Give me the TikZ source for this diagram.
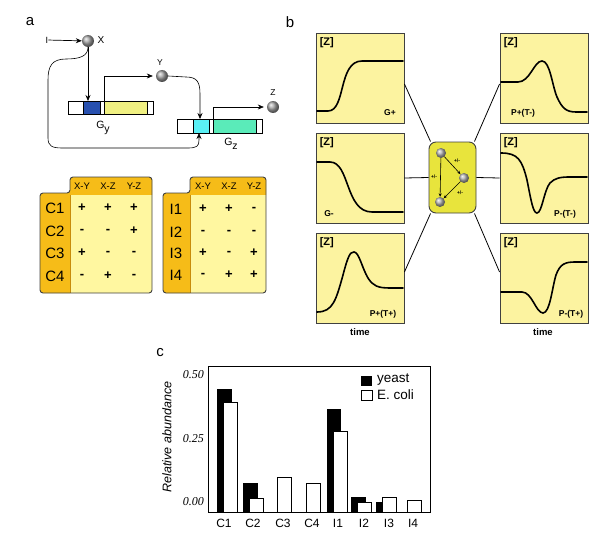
\documentclass[tikz,border=0pt]{standalone}
\usepackage{fontspec}
\setmainfont{Liberation Sans}
\newfontfamily\tnr{Liberation Serif}
\usetikzlibrary{arrows.meta,calc,shadings}
\definecolor{hdr}{RGB}{246,188,24}
\definecolor{hdrline}{RGB}{200,140,10}
\definecolor{tbody}{RGB}{255,247,160}
\definecolor{pboxc}{RGB}{252,243,160}
\definecolor{cboxc}{RGB}{232,228,60}
\definecolor{gblue}{RGB}{40,80,175}
\definecolor{gyel}{RGB}{240,240,130}
\definecolor{gcyan}{RGB}{90,240,245}
\definecolor{ggreen}{RGB}{90,235,185}
\newcommand\fsz[1]{\fontsize{#1}{#1}\selectfont}
\begin{document}
\begin{tikzpicture}[x=1pt,y=-1pt,
  ball/.style={circle,minimum size=12pt,inner sep=0pt,shading=ball,ball color=gray!70},
  sball/.style={circle,minimum size=10pt,inner sep=0pt,shading=ball,ball color=gray!60},
  lbl/.style={inner sep=0pt,font=\fsz{9}},
  arr/.style={-{Stealth[length=6pt,width=5pt]},line width=0.7pt},
  pboxs/.style={draw=gray!50!black,fill=pboxc,line width=0.9pt,minimum width=88pt,minimum height=90pt,inner sep=0pt},
  crv/.style={line width=1.6pt,line cap=round},
  zt/.style={font=\fsz{11}\bfseries,inner sep=0pt,anchor=north west},
  ct/.style={font=\fsz{8.5}\bfseries,inner sep=0pt},
  tt/.style={font=\fsz{9.5}\bfseries,inner sep=0pt},
  pm/.style={font=\fsz{13}\bfseries,inner sep=0pt},
  rowl/.style={font=\fsz{15},inner sep=0pt},
  colh/.style={font=\fsz{9.5},inner sep=0pt},
  yb/.style={fill=black},
  cb/.style={draw=black,fill=white,line width=0.8pt},
  xl/.style={font=\fsz{12},inner sep=0pt},
  tick/.style={font=\fsz{12}\tnr\itshape,inner sep=0pt,anchor=east},
  pl/.style={font=\fsz{15},inner sep=0pt}
]
\useasboundingbox (0,0) rectangle (600,543);
% ---------------- panel a ----------------
\node[pl] (la) at (30,22) {a};
\node[pl] (lb) at (290,22) {b};
\node[pl] (lc) at (160,353) {c};

\node[ball] (X) at (88,41) {};
\node[ball] (Y) at (162,76) {};
\node[ball] (Z) at (273,107) {};
\node[lbl] (I) at (47,40) {I};
\node[lbl,font=\fsz{10}] (Xl) at (101,40) {X};
\node[lbl,font=\fsz{8.5}] (Yl) at (160,63) {Y};
\node[lbl,font=\fsz{8.5}] (Zl) at (273,93) {Z};

% Gy gene
\draw[line width=0.8pt,fill=white] (68,101) rectangle (153,114);
\fill[gblue] (83,101) rectangle (100,114);
\fill[gyel] (104,101) rectangle (147,114);
\draw[line width=0.8pt] (68,101) rectangle (153,114);
\foreach \xx in {83,100,104,147} \draw[line width=0.6pt] (\xx,101) -- (\xx,114);
% Gz gene
\draw[line width=0.8pt,fill=white] (177,119) rectangle (262,133);
\fill[gcyan] (193,119) rectangle (209,133);
\fill[ggreen] (213,119) rectangle (256,133);
\draw[line width=0.8pt] (177,119) rectangle (262,133);
\foreach \xx in {193,209,213,256} \draw[line width=0.6pt] (\xx,119) -- (\xx,133);

\node[lbl,font=\fsz{10.5}] (Gy) at (103,128) {G\raisebox{-3.5pt}{y}};
\node[lbl,font=\fsz{10.5}] (Gz) at (231,144) {G\raisebox{-3.5pt}{z}};

\coordinate (gyin) at (88,101);
\coordinate (gyp) at (104,101);
\coordinate (gzin) at (200,119);
\coordinate (gzin2) at (199,133);
\coordinate (gzp) at (213,119);

\draw[arr] (I) -- (X);
\draw[arr] (X) -- (gyin);
\draw[arr,line width=0.6pt,shorten >=3pt] (gyp) |- (Y);
\draw[arr,line width=0.6pt,shorten >=3pt] (gzp) |- (Z);
\draw[arr,line width=0.6pt] (Y.east) -- (186,77) .. controls (197,77) and (200,82) .. (200,94) -- (gzin);
\draw[arr,line width=0.6pt] (X.south) .. controls (88,56) and (80,59) .. (66,59)
  .. controls (52,59) and (48,66) .. (48,80) -- (48,138)
  .. controls (48,146) and (52,148) .. (62,148) -- (188,148)
  .. controls (197,148) and (199,146) .. (199,140) -- (gzin2);

% ---------------- tables ----------------
% table C
\begin{scope}
  \clip[rounded corners=3pt] (40,193) -- (70,193) -- (70,177) -- (152,177) -- (152,293) -- (40,293) -- cycle;
  \fill[tbody] (30,170) rectangle (160,300);
  \fill[hdr] (70,170) rectangle (160,195);
  \fill[hdr] (30,190) rectangle (70,300);
\end{scope}
\draw[hdrline,line width=0.8pt] (70,195) -- (70,293);
\draw[line width=0.9pt,draw=black!75,rounded corners=3pt] (40,193) -- (70,193) -- (70,177) -- (152,177) -- (152,293) -- (40,293) -- cycle;
% table I
\begin{scope}
  \clip[rounded corners=3pt] (163,193) -- (190,193) -- (190,177) -- (266,177) -- (266,293) -- (163,293) -- cycle;
  \fill[tbody] (150,170) rectangle (280,300);
  \fill[hdr] (190,170) rectangle (280,195);
  \fill[hdr] (150,190) rectangle (190,300);
\end{scope}
\draw[hdrline,line width=0.8pt] (190,195) -- (190,293);
\draw[line width=0.9pt,draw=black!75,rounded corners=3pt] (163,193) -- (190,193) -- (190,177) -- (266,177) -- (266,293) -- (163,293) -- cycle;

\node[colh] (ch1) at (82,186) {X-Y};
\node[colh] (ch2) at (108,186) {X-Z};
\node[colh] (ch3) at (134,186) {Y-Z};
\node[colh] (ih1) at (203,186) {X-Y};
\node[colh] (ih2) at (229,186) {X-Z};
\node[colh] (ih3) at (254,186) {Y-Z};

\foreach \n/\yy/\a/\b/\c in {1/208/+/+/+, 2/231/-/-/+, 3/253/+/-/-, 4/276/-/+/-}{
  \node[rowl] (cr\n) at (55,\yy) {C\n};
  \node[pm] (ca\n) at (82,\yy) {\a};
  \node[pm] (cb\n) at (108,\yy) {\b};
  \node[pm] (cc\n) at (134,\yy) {\c};
}
\foreach \n/\yy/\a/\b/\c in {1/209/+/+/-, 2/232/-/-/-, 3/253/+/-/+, 4/275/-/+/+}{
  \node[rowl] (ir\n) at (176,\yy) {I\n};
  \node[pm] (ia\n) at (203,\yy) {\a};
  \node[pm] (ib\n) at (229,\yy) {\b};
  \node[pm] (ic\n) at (254,\yy) {\c};
}

% ---------------- panel b ----------------
\node[pboxs] (g1) at (360,78) {};
\node[pboxs] (g2) at (360,178) {};
\node[pboxs] (g3) at (360,278) {};
\node[pboxs] (r1) at (544,78) {};
\node[pboxs] (r2) at (544,178) {};
\node[pboxs] (r3) at (544,278) {};
\node[draw=gray!50!black,fill=cboxc,line width=0.9pt,rounded corners=7pt,minimum width=47pt,minimum height=71pt,inner sep=0pt] (ctr) at (452.5,177.5) {};

\draw[line width=0.8pt] ([yshift=-6pt]g1.east) -- ([xshift=2pt]ctr.north west);
\draw[line width=0.8pt] (g2.east) -- (ctr.west);
\draw[line width=0.8pt] ([yshift=6pt]g3.east) -- ([xshift=2pt]ctr.south west);
\draw[line width=0.8pt] ([yshift=-6pt]r1.west) -- ([xshift=-2pt]ctr.north east);
\draw[line width=0.8pt] (r2.west) -- (ctr.east);
\draw[line width=0.8pt] ([yshift=6pt]r3.west) -- ([xshift=-2pt]ctr.south east);

\node[sball] (b1) at (441,153) {};
\node[sball] (b2) at (464,178) {};
\node[sball] (b3) at (440,202) {};
\draw[-{Stealth[length=3.5pt,width=3pt]},line width=0.6pt] (b1) -- (b2);
\draw[-{Stealth[length=3.5pt,width=3pt]},line width=0.6pt] (b1) -- (b3);
\draw[-{Stealth[length=3.5pt,width=3pt]},line width=0.6pt] (b2) -- (b3);
\node[font=\fsz{5}\bfseries,inner sep=0pt] (s1) at (457,161) {+/-};
\node[font=\fsz{5}\bfseries,inner sep=0pt] (s2) at (434,177) {+/-};
\node[font=\fsz{5}\bfseries,inner sep=0pt] (s3) at (460,193) {+/-};

% curves
\draw[crv] (317,111) -- (328,111) .. controls (346,111) and (338,61) .. (362,61) -- (403,61);
\draw[crv] (317,162) -- (330,162) .. controls (350,162) and (345,212) .. (372,212) -- (403,212);
\draw[crv] (317,312) .. controls (333,312) and (336,300) .. (343,275) .. controls (348,256) and (350,252) .. (354,252)
  .. controls (359,252) and (362,268) .. (368,278) .. controls (373,286) and (378,288) .. (390,288) -- (403,288);
\draw[crv] (501,82) -- (518,82) .. controls (530,82) and (534,61) .. (542,61)
  .. controls (550,61) and (552,85) .. (557,97) .. controls (562,108) and (566,112) .. (576,112) -- (587,112);
\draw[crv] (501,153) .. controls (518,153) and (522,160) .. (527,180) .. controls (531,200) and (533,213) .. (537,213)
  .. controls (542,213) and (544,190) .. (550,183) .. controls (555,178) and (560,177) .. (570,177) -- (587,177);
\draw[crv] (501,292) -- (522,292) .. controls (532,292) and (536,313) .. (543,313)
  .. controls (550,313) and (552,288) .. (556,275) .. controls (560,264) and (565,262) .. (575,262) -- (587,262);

\foreach \b in {g1,g2,g3,r1,r2,r3} \node[zt] (z\b) at ([xshift=4pt,yshift=-5pt]\b.north west) {[Z]};
\node[ct] (tg1) at (390,113) {G+};
\node[ct] (tg2) at (329,214) {G-};
\node[ct] (tg3) at (383,314) {P+(T+)};
\node[ct] (tr1) at (523,113) {P+(T-)};
\node[ct] (tr2) at (565,214) {P-(T-)};
\node[ct] (tr3) at (571,314) {P-(T+)};
\node[tt] (time1) at (360,332) {time};
\node[tt] (time2) at (543,332) {time};

% ---------------- panel c ----------------
\fill[yb] (217,389) rectangle (232,512);
\draw[cb] (223,402) rectangle (237,512);
\fill[yb] (243,483) rectangle (258,512);
\draw[cb] (249,498) rectangle (263,512);
\draw[cb] (277,477) rectangle (291,512);
\draw[cb] (306,483) rectangle (320,512);
\fill[yb] (327,409) rectangle (341,512);
\draw[cb] (333,431) rectangle (347,512);
\fill[yb] (351,497) rectangle (366,512);
\draw[cb] (357,502) rectangle (371,512);
\fill[yb] (376,502) rectangle (390,512);
\draw[cb] (382,497) rectangle (396,512);
\draw[cb] (407,500) rectangle (421,512);
\draw[line width=0.9pt] (208,366) rectangle (430,512);

\foreach \t/\xx in {C1/224,C2/253,C3/283,C4/312,I1/338,I2/364,I3/389,I4/413}
  \node[xl] (x\t) at (\xx,523) {\t};
\node[tick] (t50) at (204,375) {0.50};
\node[tick] (t25) at (204,439) {0.25};
\node[tick] (t00) at (204,502) {0.00};
\node[rotate=90,font=\fsz{12.5}\itshape,inner sep=0pt] (ylab) at (167,437) {Relative abundance};

\fill[yb] (361,376) rectangle (372,386);
\draw[cb] (361,390) rectangle (372,400);
\node[font=\fsz{13.5},inner sep=0pt,anchor=west] (leg1) at (377,380) {yeast};
\node[font=\fsz{13.5},inner sep=0pt,anchor=west] (leg2) at (377,395) {E. coli};
\end{tikzpicture}
\end{document}
